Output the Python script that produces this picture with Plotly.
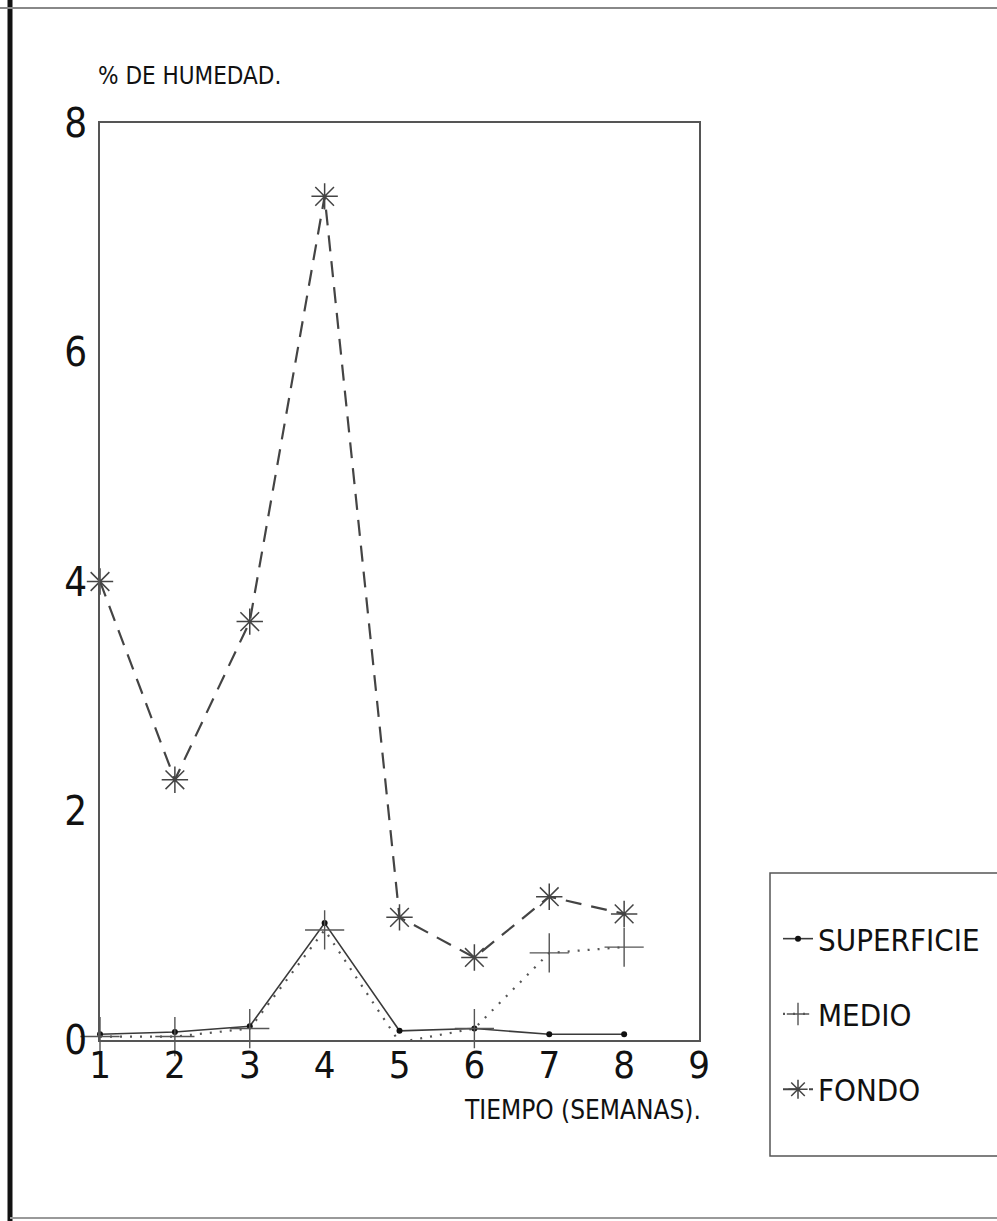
import plotly.graph_objects as go

# ---- data ----
semanas = [1, 2, 3, 4, 5, 6, 7, 8]
superficie = [0.05, 0.07, 0.12, 1.02, 0.08, 0.10, 0.05, 0.05]
medio = [0.03, 0.03, 0.10, 0.96, -0.02, 0.10, 0.76, 0.81]
fondo = [4.00, 2.27, 3.65, 7.36, 1.07, 0.72, 1.25, 1.10]
x_ticks = [1, 2, 3, 4, 5, 6, 7, 8, 9]
y_ticks = [0, 2, 4, 6, 8]

W, H = 997, 1221
L, R, T, B = 100, 699, 123, 1040
FONT = "Liberation Sans Narrow, DejaVu Sans Condensed, Roboto Condensed, Arial Narrow, Liberation Sans, sans-serif"
INK = "#3a3a3a"


def px(x):
    # paper spans from L to W (right margin 0)
    return (x - L) / (W - L)


def py(y):
    return (B - y) / (B - T)


fig = go.Figure()
fig.add_trace(go.Scatter(
    x=semanas, y=superficie, name="SUPERFICIE", mode="lines+markers",
    line=dict(color=INK, width=1.6),
    marker=dict(symbol="circle", size=6, color="#111"),
    legendgroup="a", cliponaxis=False))
fig.add_trace(go.Scatter(
    x=semanas, y=medio, name="MEDIO", mode="lines+markers",
    line=dict(color="#555", width=2.2, dash="2px,8px"),
    marker=dict(symbol="cross-thin-open", size=28, line=dict(color="#555", width=1.4)),
    legendgroup="b", cliponaxis=False))
fig.add_trace(go.Scatter(
    x=semanas, y=fondo, name="FONDO", mode="lines+markers",
    line=dict(color="#444", width=2.2, dash="16px,10px"),
    marker=dict(symbol="asterisk-open", size=22, line=dict(color="#333", width=1.5)),
    legendgroup="c", cliponaxis=False))

shapes = [
    # legend frame
    dict(type="rect", xref="paper", yref="paper", x0=px(770), x1=px(1010),
         y0=py(1156), y1=py(873), line=dict(color="#555", width=1.5)),
    # page frame lines
    dict(type="line", xref="paper", yref="paper", x0=px(10), x1=px(10),
         y0=py(1221), y1=py(0), line=dict(color="#111", width=5)),
    dict(type="line", xref="paper", yref="paper", x0=px(0), x1=px(1010),
         y0=py(8), y1=py(8), line=dict(color="#888", width=2)),
    dict(type="line", xref="paper", yref="paper", x0=px(10), x1=px(1010),
         y0=py(1218), y1=py(1218), line=dict(color="#999", width=2)),
]

annotations = [
    dict(text="% DE HUMEDAD.", xref="paper", yref="paper", x=px(96), y=py(76),
         xanchor="left", yanchor="middle", showarrow=False,
         font=dict(family=FONT, size=24, color="#111")),
    dict(text="TIEMPO (SEMANAS).", xref="paper", yref="paper", x=px(703), y=py(1110),
         xanchor="right", yanchor="middle", showarrow=False,
         font=dict(family=FONT, size=26, color="#111")),
]

fig.update_layout(
    width=W, height=H,
    margin=dict(l=L, r=0, t=T, b=H - B, autoexpand=False),
    paper_bgcolor="white", plot_bgcolor="white",
    font=dict(family=FONT, color="#111"),
    showlegend=True,
    legend=dict(xref="container", yref="container",
                x=778 / W, y=1 - 912 / H, xanchor="left", yanchor="top",
                font=dict(family=FONT, size=31, color="#111"),
                bgcolor="rgba(0,0,0,0)", borderwidth=0,
                tracegroupgap=32, itemwidth=30),
    shapes=shapes, annotations=annotations,
    xaxis=dict(domain=[0, (R - L) / (W - L)],
               range=[1, 9], tickvals=x_ticks, ticktext=[str(v) for v in x_ticks],
               showgrid=False, zeroline=False, ticks="",
               showline=True, mirror=True, linecolor="#555", linewidth=1.5,
               tickfont=dict(family=FONT, size=38, color="#111"), ticklabelstandoff=-9),
    yaxis=dict(range=[0, 8], tickvals=y_ticks, ticktext=[str(v) for v in y_ticks],
               showgrid=False, zeroline=False, ticks="",
               showline=True, mirror=True, linecolor="#555", linewidth=1.5,
               tickfont=dict(family=FONT, size=40, color="#111"), ticklabelstandoff=3),
)

fig.write_html("out.html")
